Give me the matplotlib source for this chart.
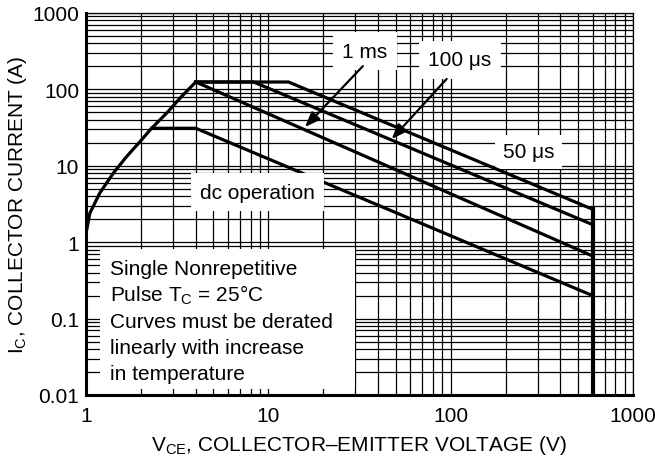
import numpy as np
import matplotlib
matplotlib.use("Agg")
import matplotlib.pyplot as plt
from matplotlib.ticker import LogLocator, FixedLocator, FixedFormatter, NullFormatter
from matplotlib.patches import Rectangle

plt.rcParams['font.family'] = ['Liberation Sans', 'DejaVu Sans']
plt.rcParams['mathtext.fontset'] = 'custom'
plt.rcParams['mathtext.rm'] = 'Liberation Sans'
plt.rcParams['mathtext.it'] = 'Liberation Sans'

# ---- data ----
curve_v = [1.0, 1.05, 1.19, 1.41, 1.67, 1.98, 2.29, 2.77, 3.28, 4.0]
curve_i = [1.3, 2.4, 4.4, 8.0, 13.2, 20.8, 31, 49, 77, 125]
dc_v = [2.29, 4.0, 600]
dc_i = [31, 31, 0.2]
ms1_v = [4.0, 600]
ms1_i = [125, 0.66]
us100_v = [4.0, 8.3, 600]
us100_i = [125, 125, 1.7]
us50_v = [4.0, 12.9, 600, 600]
us50_i = [125, 125, 2.7, 0.01]

x_ticks = [1, 10, 100, 1000]
x_labels = ["1", "10", "100", "1000"]
y_ticks = [0.01, 0.1, 1, 10, 100, 1000]
y_labels = ["0.01", "0.1", "1", "10", "100", "1000"]

note_lines = ["Single Nonrepetitive",
              r"Pulse T$_\mathregular{C}$ = 25°C",
              "Curves must be derated",
              "linearly with increase",
              "in temperature"]

FS = 15

fig = plt.figure(figsize=(6.55, 4.64), dpi=100)
ax = fig.add_axes([86/655, 1-396/464, (633-86)/655, (396-14)/464])
ax.set_xscale('log')
ax.set_yscale('log')
ax.set_xlim(1, 1000)
ax.set_ylim(0.01, 1000)

ax.xaxis.set_major_locator(FixedLocator(x_ticks))
ax.xaxis.set_major_formatter(FixedFormatter(x_labels))
ax.yaxis.set_major_locator(FixedLocator(y_ticks))
ax.yaxis.set_major_formatter(FixedFormatter(y_labels))
ax.xaxis.set_minor_locator(LogLocator(base=10, subs=np.arange(2, 10), numticks=100))
ax.yaxis.set_minor_locator(LogLocator(base=10, subs=np.arange(2, 10), numticks=100))
ax.xaxis.set_minor_formatter(NullFormatter())
ax.yaxis.set_minor_formatter(NullFormatter())
ax.tick_params(which='both', length=0, labelsize=FS)
ax.tick_params(axis='x', pad=8)
ax.tick_params(axis='y', pad=5)
ax.grid(which='both', color='black', lw=0.9)
ax.set_axisbelow(True)

for s in ['left', 'bottom']:
    ax.spines[s].set_linewidth(2.2)
for s in ['top', 'right']:
    ax.spines[s].set_linewidth(0.9)

lw = 2.3
ax.plot(curve_v, curve_i, color='black', lw=lw, zorder=5, solid_joinstyle='miter')
ax.plot(dc_v, dc_i, color='black', lw=lw, zorder=5, solid_joinstyle='miter')
ax.plot(ms1_v, ms1_i, color='black', lw=lw, zorder=5)
ax.plot(us100_v, us100_i, color='black', lw=lw, zorder=5, solid_joinstyle='miter')
ax.plot(us50_v[:3], us50_i[:3], color='black', lw=lw, zorder=5, solid_joinstyle='miter')
ax.plot(us50_v[2:], us50_i[2:], color='black', lw=3.0, zorder=5)

# note box
ax.add_patch(Rectangle((14/547, 6/382), (355-100)/547, (390-250)/382,
                       transform=ax.transAxes, fc='white', ec='none', zorder=3))
for k, line in enumerate(note_lines):
    yb = 275 + 26.3*k
    ax.text((110-86)/547, (396-yb)/382, line, transform=ax.transAxes,
            fontsize=FS, va='baseline', ha='left', zorder=4)

bbox = dict(boxstyle='square,pad=0.45', fc='white', ec='none')
bbox_small = dict(boxstyle='square,pad=0.35', fc='white', ec='none')
ax.text(4.22, 4.54, "dc operation", fontsize=FS, ha='left', va='center', bbox=bbox, zorder=6)
ax.text(25.4, 318, "1 ms", fontsize=FS, ha='left', va='center', bbox=bbox, zorder=6)
ax.text(75, 243, "100 μs", fontsize=FS, ha='left', va='center', bbox=bbox, zorder=6)
ax.text(193, 15.2, "50 μs", fontsize=FS, ha='left', va='center', bbox=bbox_small, zorder=4)

arrow = dict(arrowstyle='-|>,head_length=0.9,head_width=0.35', color='black', lw=1.6,
             shrinkA=0, shrinkB=0)
ax.annotate("", xy=(15.9, 32.2), xytext=(33.0, 202), arrowprops=arrow, zorder=7)
ax.annotate("", xy=(47.5, 22.4), xytext=(95, 137), arrowprops=arrow, zorder=7)

ax.set_xlabel(r"V$_\mathregular{CE}$, COLLECTOR–EMITTER VOLTAGE (V)", fontsize=FS, labelpad=6)
ax.set_ylabel(r"I$_\mathregular{C}$, COLLECTOR CURRENT (A)", fontsize=FS, labelpad=2)

fig.savefig("out.png", dpi=100)
